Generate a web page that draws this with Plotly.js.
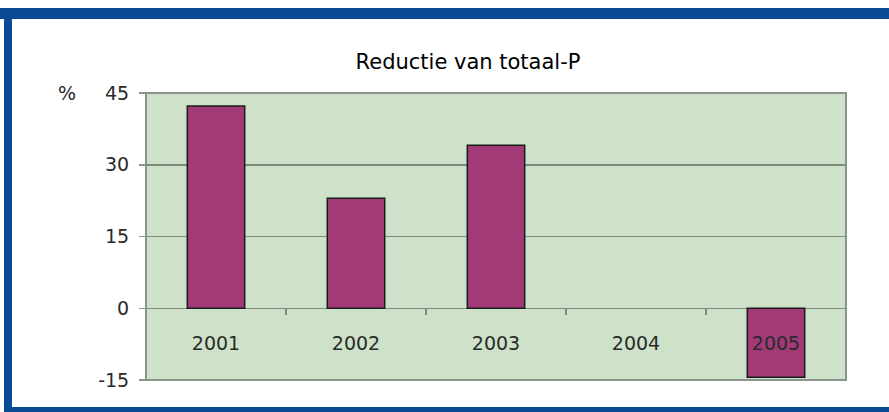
<!DOCTYPE html>
<html>
<head>
<meta charset="utf-8">
<script src="https://cdn.plot.ly/plotly-3.0.1.min.js"></script>
<style>
  html, body { margin: 0; padding: 0; background: #ffffff; }
  #wrap { position: relative; width: 889px; height: 412px; overflow: hidden; }
  #chart { position: absolute; left: 0; top: 0; width: 889px; height: 412px; }
  .bar { position: absolute; background: #0b4a94; pointer-events: none; }
</style>
</head>
<body>
<div id="wrap">
  <div id="chart"></div>
  <div class="bar" style="left:0;top:8px;width:889px;height:11px;"></div>
  <div class="bar" style="left:4px;top:8px;width:8px;height:404px;"></div>
  <div class="bar" style="left:4px;top:407px;width:885px;height:5px;"></div>
</div>
<script>
const categories = ["2001", "2002", "2003", "2004", "2005"];
const reduction = [42.3, 23.0, 34.1, null, -14.4];
const yTicks = [-15, 0, 15, 30, 45];
const yTickText = ["-15", "0", "15", "30", "45"];
const boundaryTicks = [0.5, 1.5, 2.5, 3.5];
const chartTitle = "Reductie van totaal-P";
const unitLabel = "%";

const font = "DejaVu Sans, Verdana, sans-serif";

const data = [
  {
    type: "bar",
    x: categories,
    y: reduction,
    marker: { color: "#a23a78", line: { color: "#1a1a1a", width: 1.5 } },
    hoverinfo: "x+y"
  },
  {
    type: "scatter",
    x: [],
    y: [],
    xaxis: "x2",
    yaxis: "y",
    showlegend: false
  }
];

const layout = {
  width: 889,
  height: 412,
  margin: { l: 146, r: 43, t: 93, b: 32 },
  paper_bgcolor: "#ffffff",
  plot_bgcolor: "#cde2c8",
  showlegend: false,
  bargap: 0.59,
  title: {
    text: chartTitle,
    font: { family: font, size: 21, color: "#000000" },
    x: 468 / 889,
    xref: "container",
    xanchor: "center",
    y: 1 - 62 / 412,
    yref: "container",
    yanchor: "middle"
  },
  xaxis: {
    type: "category",
    anchor: "free",
    position: 0.25,
    showline: false,
    showgrid: false,
    zeroline: false,
    ticks: "",
    tickfont: { family: font, size: 19, color: "#2a2a2a" },
    ticklabelstandoff: 22,
    fixedrange: true
  },
  xaxis2: {
    overlaying: "x",
    anchor: "free",
    position: 0.25,
    range: [-0.5, 4.5],
    showline: false,
    showgrid: false,
    zeroline: false,
    tickmode: "array",
    tickvals: boundaryTicks,
    ticks: "outside",
    ticklen: 6,
    tickwidth: 1.5,
    tickcolor: "#7d8a7d",
    showticklabels: false,
    fixedrange: true
  },
  yaxis: {
    range: [-15, 45],
    tickmode: "array",
    tickvals: yTicks,
    ticktext: yTickText,
    ticks: "outside",
    ticklen: 6,
    tickwidth: 1.5,
    tickcolor: "#8a948a",
    tickfont: { family: font, size: 19, color: "#2a2a2a" },
    ticklabelstandoff: 6,
    showgrid: true,
    gridcolor: "#7d8a7d",
    gridwidth: 1.5,
    zeroline: true,
    zerolinecolor: "#7d8a7d",
    zerolinewidth: 1.5,
    showline: false,
    fixedrange: true
  },
  shapes: [
    {
      type: "rect",
      xref: "paper", yref: "paper",
      x0: 0, x1: 1, y0: 0, y1: 1,
      line: { color: "#8a948a", width: 2 },
      fillcolor: "rgba(0,0,0,0)",
      layer: "above"
    }
  ],
  annotations: [
    {
      text: unitLabel,
      xref: "paper", yref: "paper",
      x: -(146 - 67) / 700, y: 1,
      xanchor: "center", yanchor: "middle",
      showarrow: false,
      font: { family: font, size: 19, color: "#2a2a2a" }
    }
  ]
};

Plotly.newPlot("chart", data, layout, { displayModeBar: false, staticPlot: true });
</script>
</body>
</html>
